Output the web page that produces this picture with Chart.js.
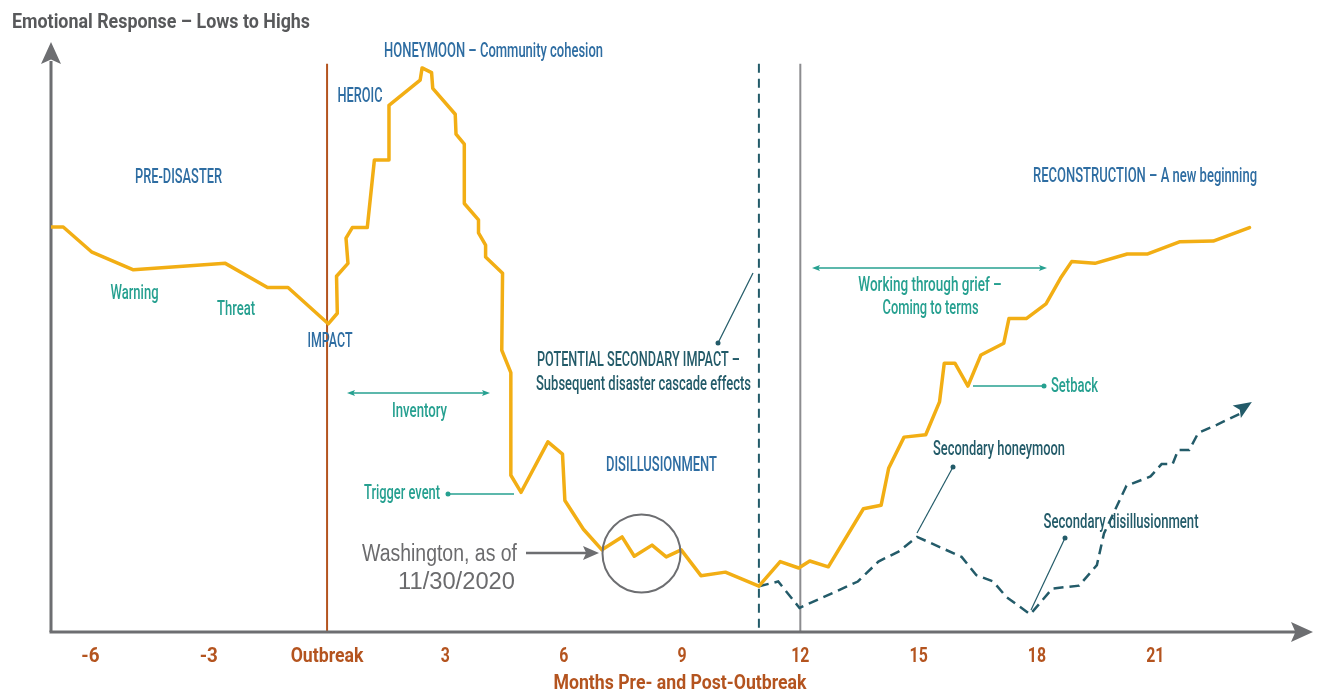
<!DOCTYPE html>
<html>
<head>
<meta charset="utf-8">
<script src="https://cdn.jsdelivr.net/npm/chart.js@4"></script>
<style>
html,body{margin:0;padding:0;background:#fff;}
#wrap{width:1317px;height:692px;position:relative;}
</style>
</head>
<body>
<div id="wrap"><canvas id="c" width="1317" height="692"></canvas></div>
<script>
// ---- data (months relative to outbreak, emotional response 0-100) ----
const tickValues = [-6, -3, 0, 3, 6, 9, 12, 15, 18, 21];
const tickLabels = ['-6', '-3', 'Outbreak', '3', '6', '9', '12', '15', '18', '21'];
const xAxisTitle = 'Months Pre- and Post-Outbreak';
const yAxisTitle = 'Emotional Response \u2013 Lows to Highs';

const mainMonths = [-7.0, -6.69, -5.96, -4.91, -2.58, -1.51, -0.99, 0.03, 0.26, 0.24, 0.53, 0.48, 0.64, 1.02, 1.20, 1.57, 1.57, 2.36, 2.41, 2.65, 2.68, 3.25, 3.27, 3.48, 3.48, 3.84, 3.84, 4.02, 4.02, 4.45, 4.43, 4.66, 4.66, 4.92, 5.60, 5.97, 6.03, 6.50, 6.97, 7.48, 7.79, 8.24, 8.60, 8.98, 9.48, 10.10, 10.95, 11.49, 11.96, 12.24, 12.71, 13.60, 14.05, 14.24, 14.63, 15.18, 15.53, 15.65, 15.92, 16.25, 16.58, 17.16, 17.29, 17.73, 18.23, 18.60, 18.88, 19.47, 20.29, 20.81, 21.63, 22.47, 23.39];
const mainValues = [69.0, 69.0, 64.7, 61.7, 62.8, 58.7, 58.7, 52.5, 54.3, 60.6, 62.8, 67.1, 68.9, 68.9, 80.4, 80.4, 89.7, 94.0, 96.1, 95.3, 92.6, 88.2, 84.8, 83.1, 73.0, 70.2, 68.0, 65.9, 63.9, 61.1, 48.0, 44.2, 26.7, 23.8, 32.4, 30.3, 22.4, 17.5, 14.0, 16.2, 12.9, 14.8, 12.8, 14.0, 9.6, 10.2, 7.8, 12.0, 10.9, 12.1, 11.1, 21.0, 21.6, 27.9, 33.2, 33.6, 39.2, 45.8, 45.8, 41.9, 47.2, 49.2, 53.4, 53.4, 55.9, 60.3, 63.1, 62.8, 64.4, 64.4, 66.5, 66.6, 68.9];

const secondaryMonths = [10.95, 11.44, 11.98, 13.46, 13.98, 14.49, 14.96, 16.09, 16.46, 16.89, 17.22, 17.83, 18.39, 19.07, 19.52, 19.70, 20.27, 20.88, 21.16, 21.44, 21.58, 21.86, 22.09, 22.56, 23.45];
const secondaryValues = [7.8, 8.6, 4.1, 8.6, 12.0, 13.7, 16.2, 12.8, 9.7, 8.6, 6.0, 3.0, 7.4, 7.9, 11.4, 16.8, 24.9, 26.5, 28.6, 28.6, 31.0, 31.0, 33.9, 35.3, 39.2];

const markerMonths = [0, 10.95, 12];   // outbreak, potential secondary impact, 12 months
const markerTop = 96.8;

// ---- styles ----
const FONT = 'Roboto, "Liberation Sans", "DejaVu Sans", sans-serif';
const FONT2 = '"Liberation Sans", Roboto, "DejaVu Sans", sans-serif';
const ORANGE = '#f2ae14';
const BLUE = '#2e6da2';
const TEAL = '#26a090';
const DARK = '#235b69';
const RUST = '#b4541f';
const AXIS = '#6d6e71';
const GREY_TXT = '#6b6b6d';

function xy(ms, vs) { return ms.map((m, i) => ({x: m, y: vs[i]})); }

// text squeezed horizontally to a condensed width (y = visual cap-centre)
function txt(ctx, s, x, y, color, align, width, size, weight, family) {
  size = size || 20;
  ctx.save();
  ctx.font = (weight || '500') + ' ' + size + 'px ' + (family || FONT);
  ctx.fillStyle = color;
  ctx.textAlign = 'left';
  ctx.textBaseline = 'alphabetic';
  const w = ctx.measureText(s).width;
  const sx = width ? width / w : 0.78;
  const tw = w * sx;
  const left = align === 'left' ? x : align === 'right' ? x - tw : x - tw / 2;
  ctx.translate(left, y + size * 0.36);
  ctx.scale(sx, 1);
  ctx.fillText(s, 0, 0);
  ctx.restore();
}
function line(ctx, x1, y1, x2, y2, color, w, dash) {
  ctx.save();
  ctx.strokeStyle = color; ctx.lineWidth = w; ctx.setLineDash(dash || []);
  ctx.beginPath(); ctx.moveTo(x1, y1); ctx.lineTo(x2, y2); ctx.stroke();
  ctx.restore();
}
function head(ctx, x, y, ang, len, wid, color) {
  ctx.save();
  ctx.translate(x, y); ctx.rotate(ang);
  ctx.fillStyle = color;
  ctx.beginPath(); ctx.moveTo(0, 0); ctx.lineTo(-len, -wid / 2); ctx.lineTo(-len * 0.8, 0); ctx.lineTo(-len, wid / 2); ctx.closePath(); ctx.fill();
  ctx.restore();
}
function dot(ctx, x, y, r, color) {
  ctx.save(); ctx.fillStyle = color; ctx.beginPath(); ctx.arc(x, y, r, 0, Math.PI * 2); ctx.fill(); ctx.restore();
}
function dblArrow(ctx, x1, x2, y, color) {
  line(ctx, x1 + 3, y, x2 - 3, y, color, 1.3);
  head(ctx, x1, y, Math.PI, 8, 6, color);
  head(ctx, x2, y, 0, 8, 6, color);
}

const decor = {
  id: 'decor',
  beforeDatasetsDraw(chart) {
    const {ctx, chartArea: a, scales: {x, y}} = chart;
    // vertical phase markers
    const top = y.getPixelForValue(markerTop);
    line(ctx, x.getPixelForValue(markerMonths[0]), top, x.getPixelForValue(markerMonths[0]), a.bottom, RUST, 2);
    line(ctx, x.getPixelForValue(markerMonths[1]), top, x.getPixelForValue(markerMonths[1]), a.bottom, DARK, 2, [9, 6]);
    line(ctx, x.getPixelForValue(markerMonths[2]), top, x.getPixelForValue(markerMonths[2]), a.bottom, '#8c8c8f', 2);
    // axes
    line(ctx, a.left, a.bottom, a.left, a.top + 16, AXIS, 3);
    line(ctx, a.left - 1.5, a.bottom, a.right - 16, a.bottom, AXIS, 3);
    head(ctx, a.left, a.top - 3, -Math.PI / 2, 22, 20, AXIS);
    head(ctx, a.right, a.bottom, 0, 22, 20, AXIS);
  },
  afterDatasetsDraw(chart) {
    const {ctx, chartArea: a, scales: {x, y}} = chart;
    // x tick labels and axis title, placed through the x scale
    tickValues.forEach((v, i) => {
      const w = tickLabels[i].length * 9.1;
      txt(ctx, tickLabels[i], x.getPixelForValue(v), a.bottom + 22, RUST, 'center', w, 21, 'bold');
    });
    txt(ctx, xAxisTitle, (a.left + a.right) / 2 - 2, a.bottom + 49, RUST, 'center', 253, 21, 'bold');
    // y-axis title
    txt(ctx, yAxisTitle, 12, 20, '#58595b', 'left', 298, 21, 'bold');
    // phase labels
    txt(ctx, 'PRE-DISASTER', 178.5, 176, BLUE, 'center', 87);
    txt(ctx, 'HONEYMOON \u2013 Community cohesion', 493.5, 50, BLUE, 'center', 219);
    txt(ctx, 'HEROIC', 360, 95, BLUE, 'center', 45);
    txt(ctx, 'IMPACT', 330, 340, BLUE, 'center', 45);
    txt(ctx, 'DISILLUSIONMENT', 661.5, 463.5, BLUE, 'center', 111);
    txt(ctx, 'RECONSTRUCTION \u2013 A new beginning', 1145, 175, BLUE, 'center', 224);
    txt(ctx, 'Warning', 134.5, 292, TEAL, 'center', 48);
    txt(ctx, 'Threat', 236, 308, TEAL, 'center', 38);
    // inventory
    dblArrow(ctx, 347, 490, 393, TEAL);
    txt(ctx, 'Inventory', 419.5, 410, TEAL, 'center', 55);
    // trigger event
    txt(ctx, 'Trigger event', 440, 492, TEAL, 'right', 76);
    dot(ctx, 448, 494, 2.5, TEAL);
    line(ctx, 448, 494, 514, 494, TEAL, 1.3);
    // potential secondary impact
    txt(ctx, 'POTENTIAL SECONDARY IMPACT \u2013', 537, 359, DARK, 'left', 203);
    txt(ctx, 'Subsequent disaster cascade effects', 536, 383, DARK, 'left', 215);
    dot(ctx, 718, 343, 2.5, DARK);
    line(ctx, 718, 343, 753, 273, DARK, 1.2);
    // working through grief
    dblArrow(ctx, 812, 1047, 268, TEAL);
    txt(ctx, 'Working through grief \u2013', 930, 284, TEAL, 'center', 143.5);
    txt(ctx, 'Coming to terms', 930.5, 307, TEAL, 'center', 96);
    // setback
    line(ctx, 973, 386, 1044, 386, TEAL, 1.3);
    dot(ctx, 1044, 386, 2.5, TEAL);
    txt(ctx, 'Setback', 1051, 385, TEAL, 'left', 47);
    // secondary labels
    txt(ctx, 'Secondary honeymoon', 999, 448, DARK, 'center', 132);
    dot(ctx, 953, 467, 2.5, DARK);
    line(ctx, 953, 467, 917, 533, DARK, 1.2);
    txt(ctx, 'Secondary disillusionment', 1121, 521, DARK, 'center', 155);
    dot(ctx, 1065, 538, 2.5, DARK);
    line(ctx, 1065, 538, 1031, 610, DARK, 1.2);
    // secondary arrow head
    const n = secondaryMonths.length;
    const x1 = x.getPixelForValue(secondaryMonths[n - 2]), y1 = y.getPixelForValue(secondaryValues[n - 2]);
    const x2 = x.getPixelForValue(secondaryMonths[n - 1]), y2 = y.getPixelForValue(secondaryValues[n - 1]);
    head(ctx, x2, y2, Math.atan2(y2 - y1, x2 - x1), 18, 15, DARK);
    // Washington callout
    txt(ctx, 'Washington, as of', 517, 553, GREY_TXT, 'right', 155, 23, 'normal', FONT2);
    txt(ctx, '11/30/2020', 515, 581, GREY_TXT, 'right', 117, 23, 'normal', FONT2);
    line(ctx, 526, 553, 590, 553, AXIS, 2.5);
    head(ctx, 599, 553, 0, 16, 14, AXIS);
    ctx.save(); ctx.strokeStyle = AXIS; ctx.lineWidth = 2; ctx.beginPath(); ctx.arc(641.5, 553.5, 39, 0, Math.PI * 2); ctx.stroke(); ctx.restore();
  }
};

new Chart(document.getElementById('c'), {
  type: 'line',
  data: {
    datasets: [
      {data: xy(mainMonths, mainValues), borderColor: ORANGE, borderWidth: 3.5, pointRadius: 0, tension: 0, borderJoinStyle: 'round', borderCapStyle: 'round'},
      {data: xy(secondaryMonths.slice(0, -1).concat([secondaryMonths[secondaryMonths.length - 1] - 0.3]), secondaryValues.slice(0, -1).concat([secondaryValues[secondaryValues.length - 1] - 2])), borderColor: DARK, borderWidth: 2.5, borderDash: [10, 6], pointRadius: 0, tension: 0}
    ]
  },
  options: {
    responsive: false,
    animation: false,
    events: [],
    layout: {padding: {left: 51, right: 4, top: 45, bottom: 0}},
    plugins: {legend: {display: false}, tooltip: {enabled: false}},
    scales: {
      x: {
        type: 'linear', min: -7, max: 25, position: 'bottom',
        grid: {display: false, drawTicks: false}, border: {display: false},
        afterBuildTicks: s => { s.ticks = tickValues.map(v => ({value: v})); },
        afterFit: s => { s.height = 60; },
        ticks: {display: false},
        title: {display: false, text: xAxisTitle}
      },
      y: {display: false, min: 0, max: 100}
    }
  },
  plugins: [decor]
});
</script>
</body>
</html>
